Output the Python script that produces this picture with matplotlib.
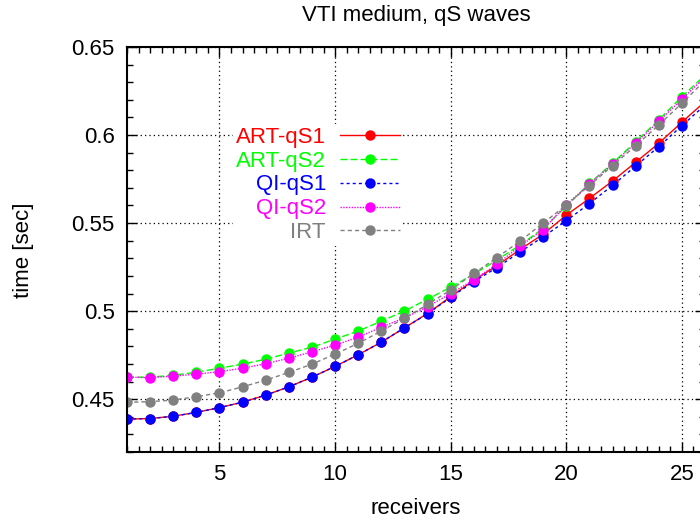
import matplotlib
matplotlib.use("Agg")
import matplotlib.pyplot as plt
from matplotlib.ticker import MultipleLocator

plt.rcParams['font.family'] = ['Liberation Sans', 'DejaVu Sans']
plt.rcParams['font.size'] = 16

receivers = list(range(1, 27))

art_qs1 = [0.4387, 0.4390, 0.4403, 0.4425, 0.4452, 0.4483, 0.4523, 0.4570, 0.4625,
           0.4686, 0.4752, 0.4824, 0.4905, 0.4987, 0.5082, 0.5175, 0.5258, 0.5350,
           0.5437, 0.5545, 0.5640, 0.5739, 0.5845, 0.5953, 0.6073, 0.6190]
art_qs2 = [0.4625, 0.4625, 0.4636, 0.4653, 0.4676, 0.4699, 0.4727, 0.4762, 0.4795,
           0.4841, 0.4887, 0.4943, 0.5000, 0.5068, 0.5136, 0.5210, 0.5290, 0.5375,
           0.5470, 0.5595, 0.5725, 0.5840, 0.5962, 0.6086, 0.6218, 0.6340]
qi_qs1 = [0.4387, 0.4390, 0.4403, 0.4425, 0.4452, 0.4483, 0.4523, 0.4570, 0.4625,
          0.4686, 0.4752, 0.4824, 0.4905, 0.4985, 0.5078, 0.5168, 0.5247, 0.5336,
          0.5422, 0.5513, 0.5611, 0.5714, 0.5824, 0.5934, 0.6053, 0.6170]
qi_qs2 = [0.4625, 0.4622, 0.4631, 0.4642, 0.4656, 0.4676, 0.4701, 0.4733, 0.4769,
          0.4807, 0.4852, 0.4909, 0.4962, 0.5025, 0.5100, 0.5178, 0.5266, 0.5370,
          0.5462, 0.5605, 0.5720, 0.5835, 0.5955, 0.6078, 0.6203, 0.6330]
irt = [0.4482, 0.4486, 0.4495, 0.4514, 0.4536, 0.4570, 0.4608, 0.4652, 0.4699,
       0.4756, 0.4817, 0.4887, 0.4960, 0.5038, 0.5120, 0.5214, 0.5304, 0.5398,
       0.5500, 0.5602, 0.5713, 0.5826, 0.5939, 0.6057, 0.6180, 0.6310]

series = [
    ('ART-qS1', art_qs1, '#ff0000', '-'),
    ('ART-qS2', art_qs2, '#00ff00', (0, (5, 2.2))),
    ('QI-qS1', qi_qs1, '#0000ff', (0, (2.2, 2.2))),
    ('QI-qS2', qi_qs2, '#ff00ff', (0, (1, 1))),
    ('IRT', irt, '#808080', (0, (3, 2.2))),
]

fig = plt.figure(figsize=(7, 5.2), dpi=100)
# right edge of the plot box sits just past the picture edge, like the original
ax = fig.add_axes([127 / 700, 68 / 520, 578 / 700, 405 / 520])

for name, vals, col, ls in series:
    ax.plot(receivers, vals, color=col, linestyle=ls, linewidth=1.0,
            marker='o', markersize=7.5, markeredgewidth=0, label=name)

ax.set_xlim(1, 26)
ax.set_ylim(0.42, 0.65)
ax.xaxis.set_major_locator(MultipleLocator(5))
ax.xaxis.set_minor_locator(MultipleLocator(0.5))
ax.yaxis.set_major_locator(MultipleLocator(0.05))
ax.yaxis.set_minor_locator(MultipleLocator(0.01))
ax.set_xticks([5, 10, 15, 20, 25])
ax.set_yticks([0.45, 0.5, 0.55, 0.6, 0.65])
ax.set_yticklabels(['0.45', '0.5', '0.55', '0.6', '0.65'])
ax.tick_params(which='both', direction='in', top=True, right=True)
ax.tick_params(which='major', length=7, width=1, pad=9)
ax.tick_params(which='minor', length=4, width=1)
for s in ax.spines.values():
    s.set_linewidth(1.5)
ax.grid(True, which='major', color='black', linestyle=(0, (1, 2.5)), linewidth=0.9)

# opaque key box, hides the grid behind it
leg = ax.legend(loc='upper right', bbox_to_anchor=(403 / 700, 1 - 124 / 520),
                bbox_transform=fig.transFigure, frameon=True, facecolor='white',
                edgecolor='none', framealpha=1, fancybox=False, markerfirst=False,
                numpoints=1, handlelength=2.7, handletextpad=0.65, labelspacing=0.13,
                borderpad=0.12, borderaxespad=0, labelcolor='linecolor', fontsize=16)

fig.text(416 / 700, 1 - 15 / 520, 'VTI medium, qS waves', ha='center', va='center')
fig.text(416 / 700, 1 - 508 / 520, 'receivers', ha='center', va='center')
fig.text(23 / 700, 1 - 250 / 520, 'time [sec]', ha='center', va='center', rotation=90)

fig.savefig('out.png', dpi=100)
